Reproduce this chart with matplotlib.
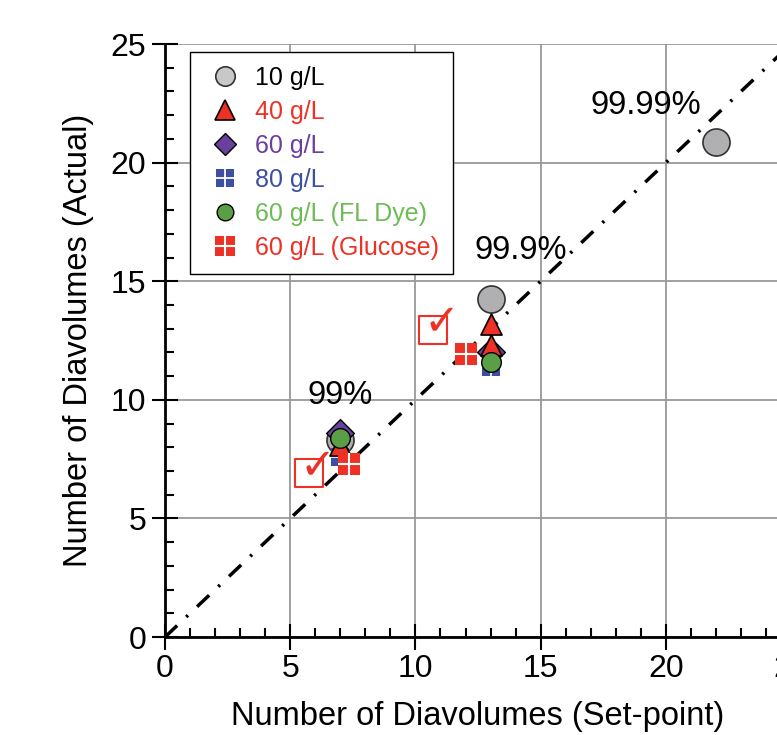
import matplotlib
matplotlib.use('Agg')
import matplotlib.pyplot as plt
from matplotlib.lines import Line2D
from matplotlib.legend_handler import HandlerTuple
from matplotlib.ticker import MultipleLocator

plt.rcParams['font.family'] = ['Liberation Sans', 'DejaVu Sans']

# data
x_10 = [7, 13, 22]
y_10 = [8.3, 14.25, 20.85]
x_40 = [7, 13, 13]
y_40 = [8.1, 12.3, 13.2]
x_60 = [7, 13]
y_60 = [8.6, 12.0]
x_80 = [7, 13]
y_80 = [7.6, 11.4]
x_dye = [7, 13]
y_dye = [8.4, 11.6]
x_glu = [7.35, 12.0]
y_glu = [7.3, 11.95]
x_check = [5.75, 10.7]
y_check = [6.9, 12.95]
pct_labels = ['99%', '99.9%', '99.99%']
pct_x = [7.0, 14.2, 19.2]
pct_y = [10.2, 16.3, 22.4]

red = '#EE3124'
purple = '#6A3F9E'
blue = '#3D4EA3'
green = '#5A9E45'

fig = plt.figure(figsize=(7.77, 7.35), dpi=100)
ax = fig.add_axes([0.2124, 0.1333, 0.8057, 0.8068])

ax.plot([0, 26], [0, 26], color='black', lw=2.5, linestyle=(0, (4.8, 3.6, 0.7, 3.6)), zorder=2)

ax.scatter(x_10, y_10, s=380, c='#B0B0B2', edgecolors='#333333', linewidths=1.2, zorder=3)
ax.scatter(x_40, y_40, s=230, marker='^', c=red, edgecolors='black', linewidths=1.2, zorder=4)
ax.scatter(x_60, y_60, s=200, marker='D', c=purple, edgecolors='black', linewidths=1.0, zorder=3.5)
ax.scatter(x_80, y_80, s=170, marker='s', c=blue, linewidths=0, zorder=3.2)
ax.scatter(x_80, y_80, s=170, marker='+', c='white', linewidths=1.2, zorder=3.3)
ax.scatter(x_dye, y_dye, s=200, c=green, edgecolors='black', linewidths=1.0, zorder=5)
ax.scatter(x_glu, y_glu, s=270, marker='s', c=red, linewidths=0, zorder=6)
ax.scatter(x_glu, y_glu, s=270, marker='+', c='white', linewidths=1.5, zorder=6.5)

ax.scatter(x_check, y_check, s=400, marker='s', facecolors='white', edgecolors=red, linewidths=1.5, zorder=7)
for cx, cy in zip(x_check, y_check):
    ax.text(cx + 0.35, cy + 0.3, '\u2713', color=red, fontsize=31, family='DejaVu Sans',
            ha='center', va='center', zorder=8)

for lab, px, py in zip(pct_labels, pct_x, pct_y):
    ax.text(px, py, lab, fontsize=23.5, ha='center', va='center', zorder=9)

ax.set_xlim(0, 25)
ax.set_ylim(0, 25)
ax.xaxis.set_major_locator(MultipleLocator(5))
ax.yaxis.set_major_locator(MultipleLocator(5))
ax.xaxis.set_minor_locator(MultipleLocator(1))
ax.yaxis.set_minor_locator(MultipleLocator(1))
ax.tick_params(which='major', direction='inout', length=19, width=1.5, labelsize=23, pad=3)
ax.tick_params(axis='y', which='major', pad=4)
ax.tick_params(which='minor', direction='in', length=6.5, width=1.5)
ax.grid(True, which='major', color='#999999', lw=1.3)
ax.set_axisbelow(True)
for s in ['top', 'right']:
    ax.spines[s].set_visible(False)
for s in ['left', 'bottom']:
    ax.spines[s].set_linewidth(2)

ax.set_xlabel('Number of Diavolumes (Set-point)', fontsize=23.5, labelpad=12)
ax.set_ylabel('Number of Diavolumes (Actual)', fontsize=23.5, labelpad=12)

ms = 14
handles = [
    Line2D([], [], ls='', marker='o', ms=ms, mfc='#C8C8CA', mec='#333333', mew=1.2),
    Line2D([], [], ls='', marker='^', ms=ms, mfc=red, mec='black', mew=1.2),
    Line2D([], [], ls='', marker='D', ms=ms - 3, mfc=purple, mec='black', mew=1.0),
    (Line2D([], [], ls='', marker='s', ms=ms - 1, mfc=blue, mew=0),
     Line2D([], [], ls='', marker='+', ms=ms - 1, mec='white', mew=1.3)),
    Line2D([], [], ls='', marker='o', ms=ms - 2, mfc=green, mec='black', mew=1.0),
    (Line2D([], [], ls='', marker='s', ms=ms, mfc=red, mew=0),
     Line2D([], [], ls='', marker='+', ms=ms, mec='white', mew=1.5)),
]
labels = ['10 g/L', '40 g/L', '60 g/L', '80 g/L', '60 g/L (FL Dye)', '60 g/L (Glucose)']
leg = ax.legend(handles, labels,
                handler_map={tuple: HandlerTuple(ndivide=1)},
                loc='upper left', bbox_to_anchor=(0.04, 0.9865), fontsize=18,
                frameon=True, fancybox=False, edgecolor='black', framealpha=1,
                labelspacing=0.4, handletextpad=0.35, handlelength=1.7,
                borderpad=0.55, borderaxespad=0)
leg.get_frame().set_linewidth(1.0)
for t, c in zip(leg.get_texts(), ['black', red, purple, blue, '#6DBB55', red]):
    t.set_color(c)

fig.savefig('out.png', dpi=100)
